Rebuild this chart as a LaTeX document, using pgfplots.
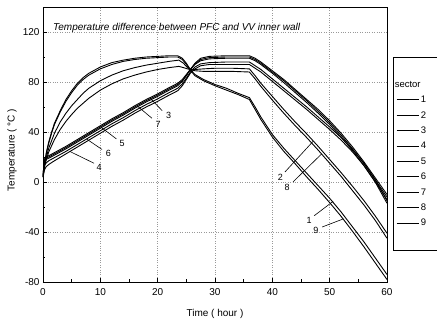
\documentclass[border=0pt]{standalone}
\usepackage{fontspec}
\setmainfont{Liberation Sans}
\usepackage{pgfplots}
\pgfplotsset{compat=1.18}
\begin{document}
\begin{tikzpicture}
\path[use as bounding box] (-43pt,-39pt) rectangle (394pt,282pt);
\begin{axis}[
 scale only axis, width=344pt, height=275pt,
 xmin=0, xmax=60, ymin=-80, ymax=140,
 xtick={0,10,...,60}, ytick={-80,-40,...,120},
 minor x tick num=1, minor y tick num=1,
 tick align=inside, xtick pos=left, ytick pos=left,
 grid=major, major grid style={dotted, gray!80},
 axis line style={line width=0.8pt},
 tick style={black, line width=0.6pt}, major tick length=4pt, minor tick length=2.5pt,
 /pgf/number format/assume math mode=true,
 tick label style={font=\fontsize{10}{12}\selectfont},
 xticklabel style={yshift=-3pt},
 xlabel={Time ( hour )}, ylabel={Temperature ( °C )},
 label style={font=\fontsize{10}{12}\selectfont},
 every axis x label/.style={at={(axis description cs:0.5,-0.116)}, anchor=center},
 every axis y label/.style={at={(axis description cs:-0.09,0.48)}, anchor=center, rotate=90},
 legend style={at={(1,1)}, anchor=north west, xshift=6pt, yshift=-50pt, draw=black, line width=0.6pt,
   font=\fontsize{9.5}{10}\selectfont, inner xsep=3pt, inner ysep=22pt, row sep=5.4pt,
   nodes={inner sep=1pt, text height=7pt, text depth=1pt}},
 legend cell align=left,
 legend image code/.code={\draw[#1, line width=0.7pt] (0cm,0cm) -- (0.8cm,0cm);},
 cycle list={{black, solid, no markers}},
 every axis plot post/.append style={black, solid, no markers, line width=0.9pt},
]
\addlegendimage{empty legend}
\addlegendentry{\hspace*{-26pt}sector\hspace*{20pt}}
% sector 1
\addplot coordinates {(0,4) (0.3,16) (0.6,24) (1,32) (1.5,40) (2,47) (3,57) (4,66) (5,73) (6,79) (7,83.5) (8,87) (10,92) (12,95.5) (14,97.5) (16,99) (18,100) (20,100.5) (22,101) (23.5,101) (24.3,99) (25,95) (25.7,90) (26.5,86) (28,82) (30,78) (32,75) (34,71) (36,67.5) (37,60) (38,52) (40,38) (42,27) (44,17) (46,7) (48,-3) (50,-13) (52,-24) (54,-36) (56,-48) (58,-61) (60,-74)};
\addlegendentry{1}
% sector 2
\addplot coordinates {(0,4) (0.3,14) (0.6,20) (1,27) (1.5,33) (2,39) (3,48) (4,55) (5,61) (6,66) (7,71) (8,75) (10,81) (12,85.5) (14,89) (16,91.5) (18,93.5) (20,95) (22,96.5) (23.7,97.5) (24.5,95) (25.2,91.5) (25.7,90) (26.5,90) (28,90.5) (30,91) (33,91) (36,90.5) (37,85) (38,79) (40,68.5) (42,58) (44,48) (46,38.5) (47,33.5) (48,28.5) (50,18) (52,7.5) (54,-3.5) (56,-15) (58,-27.5) (60,-41)};
\addlegendentry{2}
% sector 3
\addplot coordinates {(0,4) (0.2,18) (0.5,20) (1,21) (2,23.5) (4,28.5) (6,34) (8,39.5) (10,45) (12,50.5) (14,55.5) (16,61) (18,66) (20,70.5) (22,75.5) (23.5,79) (24.3,82) (25,86) (25.7,90) (26.5,94) (27.5,97) (29,98.5) (32,99) (36,99) (37,97) (38,94) (40,87) (42,79.5) (44,71.5) (46,63.5) (48,55) (50,46) (52,36) (54,25) (56,13) (58,0) (60,-14)};
\addlegendentry{3}
% sector 4
\addplot coordinates {(0,3) (0.2,9) (0.5,12) (1,14) (2,17) (4,22.5) (6,28) (8,33.5) (10,39) (12,44.5) (14,49.5) (16,55) (18,60) (20,64.5) (22,69.5) (23.5,73) (24.3,77) (25,82) (25.7,87) (26.5,90.5) (27.5,93) (29,94) (32,94) (36,94) (38,88) (40,80.5) (42,73) (44,65.5) (46,58) (48,50) (50,42) (52,33.5) (54,24) (56,13) (58,-0.5) (60,-17)};
\addlegendentry{4}
% sector 5
\addplot coordinates {(0,4) (0.2,16) (0.5,18) (1,19) (2,21.5) (4,26.5) (6,32) (8,37.5) (10,43) (12,48.5) (14,53.5) (16,59) (18,64) (20,68.5) (22,73.5) (23.5,77) (24.3,80.5) (25,85) (25.7,90) (26.5,95) (27.5,99) (29,100.5) (32,101) (36,101) (37,99) (38,96) (40,89) (42,82) (44,74) (46,66) (48,58) (50,49) (52,39) (54,28) (56,16) (58,3) (60,-10)};
\addlegendentry{5}
% sector 6
\addplot coordinates {(0,4) (0.2,13) (0.5,15) (1,17) (2,19.5) (4,24.5) (6,30) (8,35.5) (10,41) (12,46.5) (14,51.5) (16,57) (18,62) (20,66.5) (22,71.5) (23.5,75) (24.3,78.5) (25,83) (25.7,88) (26.5,92) (27.5,94.5) (29,95.5) (32,96) (36,96) (38,90) (40,82.5) (42,75) (44,67.5) (46,60) (48,52) (50,44) (52,35.5) (54,26) (56,15) (58,1.5) (60,-15)};
\addlegendentry{6}
% sector 7
\addplot coordinates {(0,4) (0.2,17) (0.5,19) (1,20) (2,22.5) (4,27.5) (6,33) (8,38.5) (10,44) (12,49.5) (14,54.5) (16,60) (18,65) (20,69.5) (22,74.5) (23.5,78) (24.3,81) (25,85.5) (25.7,90) (26.5,94.5) (27.5,98) (29,99.5) (32,100) (36,100) (37,98) (38,95) (40,88) (42,81) (44,73) (46,65) (48,56.5) (50,47.5) (52,37.5) (54,26.5) (56,14.5) (58,1.5) (60,-12)};
\addlegendentry{7}
% sector 8
\addplot coordinates {(0,4) (0.3,13) (0.6,18) (1,24) (1.5,29) (2,34) (3,42) (4,48.5) (5,54) (6,59) (7,63) (8,67) (10,73.5) (12,78.5) (14,82.5) (16,85.5) (18,88) (20,90) (22,91.5) (23.7,92.5) (24.5,91.5) (25.2,90.5) (25.7,90) (26.5,89) (28,88.5) (30,88.5) (33,88.5) (36,88) (37,82.5) (38,76.5) (40,65.5) (42,55) (44,45) (46,35.5) (47,30.5) (48,25.5) (50,15) (52,4.5) (54,-7) (56,-18.5) (58,-31) (60,-45)};
\addlegendentry{8}
% sector 9
\addplot coordinates {(0,4) (0.3,15) (0.6,23) (1,31) (1.5,39) (2,46) (3,56) (4,64.5) (5,71.5) (6,77.5) (7,82) (8,85.5) (10,90.5) (12,94) (14,96.5) (16,98) (18,99) (20,99.5) (22,100) (23.5,100) (24.3,98) (25,94) (25.7,89.5) (26.5,85) (28,81) (30,77) (32,73.5) (34,70) (36,66) (37,58) (38,50) (40,36) (42,24.5) (44,14.5) (46,4) (48,-6) (50,-16.5) (52,-27.5) (54,-39.5) (56,-52) (58,-65) (60,-78)};
\addlegendentry{9}
% title and curve labels
\node[anchor=base west, font=\itshape\fontsize{10}{12}\selectfont, inner sep=0pt] at (axis description cs:0.029,0.916) {Temperature difference between PFC and VV inner wall};
\begin{scope}[every node/.style={font=\fontsize{9}{10}\selectfont, inner sep=0pt}]
\draw[line width=0.6pt] (axis cs:18.7,67) -- (axis cs:20.8,57); \node at (axis cs:21.9,53.5) {3};
\draw[line width=0.6pt] (axis cs:16.4,61) -- (axis cs:19,51); \node at (axis cs:20.1,46) {7};
\draw[line width=0.6pt] (axis cs:10.2,43.5) -- (axis cs:12.8,34.5); \node at (axis cs:13.8,31) {5};
\draw[line width=0.6pt] (axis cs:7.6,34.4) -- (axis cs:10.3,26); \node at (axis cs:11.4,22.5) {6};
\draw[line width=0.6pt] (axis cs:4.7,24.4) -- (axis cs:8.9,15); \node at (axis cs:9.8,12) {4};
\draw[line width=0.6pt] (axis cs:47.1,32.5) -- (axis cs:42.2,8); \node at (axis cs:41.4,4) {2};
\draw[line width=0.6pt] (axis cs:48.6,22.5) -- (axis cs:43.6,0); \node at (axis cs:42.6,-4) {8};
\draw[line width=0.6pt] (axis cs:50.6,-15.5) -- (axis cs:47.3,-27); \node at (axis cs:46.4,-31) {1};
\draw[line width=0.6pt] (axis cs:52.4,-29.5) -- (axis cs:48.7,-36); \node at (axis cs:47.6,-39) {9};
\end{scope}
\end{axis}
\end{tikzpicture}
\end{document}
